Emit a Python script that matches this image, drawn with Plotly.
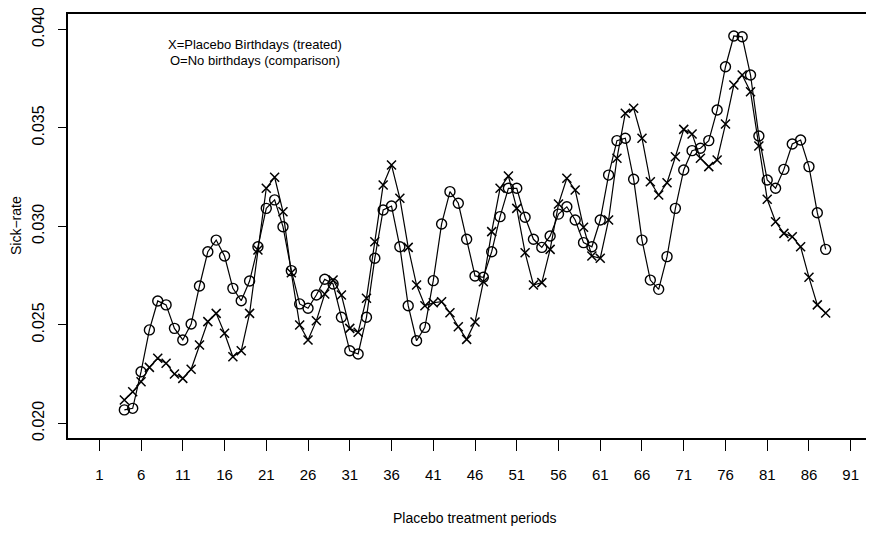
import plotly.graph_objects as go

periods = list(range(4, 89))

comparison_O = [
    0.02068, 0.02076, 0.02262, 0.02474, 0.02621, 0.02601, 0.02482, 0.02423, 0.02504, 0.02697,
    0.02871, 0.02930, 0.02849, 0.02685, 0.02622, 0.02722, 0.02896, 0.03091, 0.03134, 0.02998,
    0.02775, 0.02606, 0.02584, 0.02651, 0.02731, 0.02707, 0.02538, 0.02368, 0.02352, 0.02538,
    0.02838, 0.03083, 0.03103, 0.02896, 0.02597, 0.02419, 0.02487, 0.02724, 0.03012, 0.03176,
    0.03117, 0.02934, 0.02748, 0.02741, 0.02871, 0.03049, 0.03193, 0.03193, 0.03046, 0.02934,
    0.02893, 0.02951, 0.03062, 0.03099, 0.03032, 0.02917, 0.02896, 0.03032, 0.03260, 0.03435,
    0.03447, 0.03239, 0.02930, 0.02727, 0.02680, 0.02846, 0.03091, 0.03286, 0.03384, 0.03396,
    0.03435, 0.03590, 0.03810, 0.03966, 0.03962, 0.03768, 0.03458, 0.03235, 0.03193, 0.03289,
    0.03418, 0.03438, 0.03303, 0.03069, 0.02883,
]

treated_X = [
    0.02118, 0.02160, 0.02211, 0.02284, 0.02330, 0.02305, 0.02250, 0.02228, 0.02274, 0.02397,
    0.02516, 0.02558, 0.02457, 0.02338, 0.02368, 0.02558, 0.02880, 0.03193, 0.03249, 0.03074,
    0.02764, 0.02499, 0.02423, 0.02521, 0.02656, 0.02727, 0.02651, 0.02482, 0.02462, 0.02635,
    0.02922, 0.03210, 0.03311, 0.03142, 0.02893, 0.02702, 0.02597, 0.02612, 0.02617, 0.02561,
    0.02490, 0.02426, 0.02514, 0.02719, 0.02973, 0.03193, 0.03255, 0.03091, 0.02866, 0.02702,
    0.02714, 0.02883, 0.03113, 0.03244, 0.03184, 0.02995, 0.02849, 0.02838, 0.03032, 0.03345,
    0.03574, 0.03599, 0.03447, 0.03226, 0.03159, 0.03221, 0.03353, 0.03492, 0.03469, 0.03345,
    0.03303, 0.03337, 0.03519, 0.03717, 0.03768, 0.03683, 0.03408, 0.03137, 0.03023, 0.02964,
    0.02947, 0.02896, 0.02741, 0.02601, 0.02560,
]

x_ticks = list(range(1, 92, 5))
y_ticks = [0.020, 0.025, 0.030, 0.035, 0.040]
y_tick_labels = ["0.020", "0.025", "0.030", "0.035", "0.040"]

legend_lines = ["X=Placebo Birthdays (treated)", "O=No birthdays (comparison)"]
x_title = "Placebo treatment periods"
y_title = "Sick\u2212rate"

# page body has an 8px default margin; size the figure to fit the window
OFF = 8
W, H = 874 - OFF, 534 - OFF
ML, MT = 68 - OFF, 14 - OFF
MR = 0
MB = H - (438 - OFF)
PW = W - ML - MR
PH = H - MT - MB

FONT = "Liberation Sans, Arial, Helvetica, sans-serif"


def px_x(px):
    return (px - OFF - ML) / PW


def px_y(py):
    return (H - MB - (py - OFF)) / PH


fig = go.Figure()

fig.add_trace(go.Scatter(
    x=periods, y=comparison_O, mode="lines+markers",
    marker=dict(symbol="circle-open", size=10, color="black", line=dict(width=1.4)),
    line=dict(color="black", width=1.2), showlegend=False, hoverinfo="skip",
))
fig.add_trace(go.Scatter(
    x=periods, y=treated_X, mode="lines+markers",
    marker=dict(symbol="x-thin-open", size=9, color="black", line=dict(width=1.5)),
    line=dict(color="black", width=1.2), showlegend=False, hoverinfo="skip",
))

px_per_unit = 8.349
x0 = 1 - (99.3 - 68) / px_per_unit
x1 = x0 + PW / px_per_unit
y_per_px = 0.001 / 19.7
ytop = 0.040 + (29.3 - 14) * y_per_px
ybot = ytop - PH * y_per_px

annotations = [
    dict(x=px_x(255), y=px_y(45), xref="paper", yref="paper", text=legend_lines[0],
         showarrow=False, font=dict(family=FONT, size=13, color="black"),
         xanchor="center", yanchor="middle"),
    dict(x=px_x(255), y=px_y(61), xref="paper", yref="paper", text=legend_lines[1],
         showarrow=False, font=dict(family=FONT, size=13, color="black"),
         xanchor="center", yanchor="middle"),
    dict(x=px_x(474.5), y=px_y(518), xref="paper", yref="paper", text=x_title,
         showarrow=False, font=dict(family=FONT, size=14, color="black"),
         xanchor="center", yanchor="middle"),
    dict(x=px_x(16), y=px_y(226), xref="paper", yref="paper", text=y_title,
         showarrow=False, font=dict(family=FONT, size=14, color="black"),
         xanchor="center", yanchor="middle", textangle=-90),
]

fig.update_layout(
    width=W, height=H,
    margin=dict(l=ML, r=MR, t=MT, b=MB, pad=0),
    paper_bgcolor="white", plot_bgcolor="white",
    annotations=annotations,
    xaxis=dict(
        range=[x0, x1], tickvals=x_ticks, ticktext=[str(v) for v in x_ticks],
        ticks="outside", ticklen=11, tickwidth=1, tickcolor="black",
        showline=True, linecolor="black", linewidth=1.5, mirror=True,
        showgrid=False, zeroline=False,
        tickfont=dict(family=FONT, size=15, color="black"),
        ticklabelstandoff=11, ticklabeloverflow="allow",
    ),
    yaxis=dict(
        range=[ybot, ytop], tickvals=y_ticks, ticktext=y_tick_labels,
        ticks="outside", ticklen=8, tickwidth=1, tickcolor="black",
        showline=True, linecolor="black", linewidth=1.5, mirror=False,
        showgrid=False, zeroline=False, tickangle=-90,
        tickfont=dict(family=FONT, size=16, color="black"),
        ticklabelstandoff=8, ticklabeloverflow="allow",
    ),
)

fig.write_html("out.html")
